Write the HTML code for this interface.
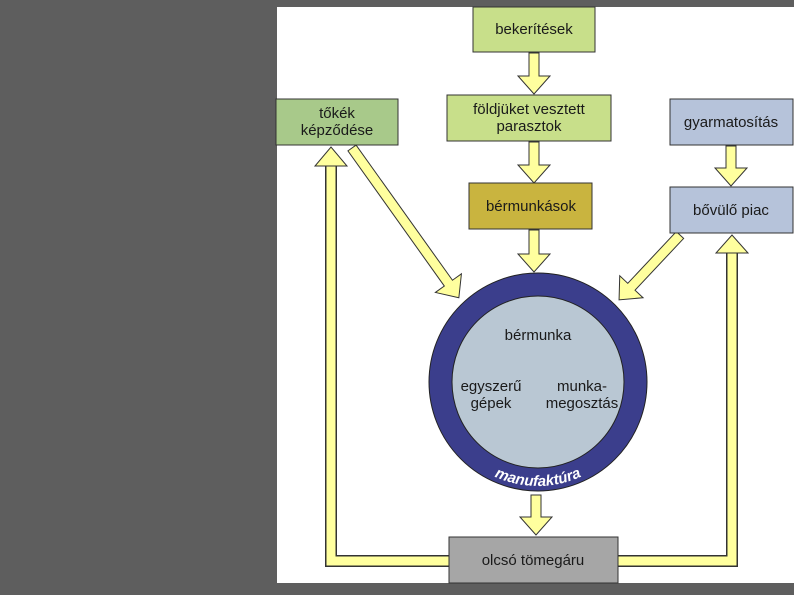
<!DOCTYPE html>
<html><head><meta charset="utf-8"><style>
html,body{margin:0;padding:0;background:#5e5e5e;}
svg{display:block;}
text{font-family:"Liberation Sans",sans-serif;fill:#1a1a1a;}
</style></head><body>
<svg width="794" height="595" viewBox="0 0 794 595" xmlns="http://www.w3.org/2000/svg">
<defs>
<path id="arc" d="M 434,382 A 104 104 0 0 0 642,382"/>
</defs>
<rect x="0" y="0" width="794" height="595" fill="#5e5e5e"/>
<rect x="277" y="7" width="517" height="576" fill="#ffffff"/>

<!-- loops -->
<g fill="none" stroke-linejoin="miter">
<polyline points="449,561 331,561 331,165" stroke="#333" stroke-width="12"/>
<polyline points="449,561 331,561 331,165" stroke="#ffff9e" stroke-width="9"/>
<polyline points="618,561 732,561 732,252" stroke="#333" stroke-width="12"/>
<polyline points="618,561 732,561 732,252" stroke="#ffff9e" stroke-width="9"/>
</g>
<g fill="#ffff9e" stroke="#333" stroke-width="1">
<polygon points="326,166 315,166 331,147 347,166 336,166"/>
<polygon points="727,253 716,253 732,235 748,253 737,253"/>
<!-- down arrows -->
<g transform="translate(534,53)"><polygon points="-5,0 5,0 5,23 16,23 0,41 -16,23 -5,23"/></g>
<g transform="translate(534,142)"><polygon points="-5,0 5,0 5,23 16,23 0,41 -16,23 -5,23"/></g>
<g transform="translate(534,230)"><polygon points="-5,0 5,0 5,24 16,24 0,42 -16,24 -5,24"/></g>
<g transform="translate(731,146)"><polygon points="-5,0 5,0 5,22 16,22 0,40 -16,22 -5,22"/></g>
<g transform="translate(536,495)"><polygon points="-5,0 5,0 5,22 16,22 0,40 -16,22 -5,22"/></g>
<!-- diagonals -->
<g transform="translate(352,148) rotate(-35.5)"><polygon points="-5,0 5,0 5,166 16,166 0,184 -16,166 -5,166"/></g>
<g transform="translate(680,235) rotate(43.2)"><polygon points="-5,0 5,0 5,71 16,71 0,89 -16,71 -5,71"/></g>
</g>

<!-- boxes -->
<g stroke="#333" stroke-width="1">
<rect x="473" y="7" width="122" height="45" fill="#c8df8a"/>
<rect x="447" y="95" width="164" height="46" fill="#c8df8a"/>
<rect x="276" y="99" width="122" height="46" fill="#a8c98a"/>
<rect x="670" y="99" width="123" height="46" fill="#b6c3da"/>
<rect x="469" y="183" width="123" height="46" fill="#c9b43f"/>
<rect x="670" y="187" width="123" height="46" fill="#b6c3da"/>
<rect x="449" y="537" width="169" height="46" fill="#a6a6a6"/>
</g>

<!-- circle -->
<circle cx="538" cy="382" r="109" fill="#3b3e8c" stroke="#222" stroke-width="1"/>
<circle cx="538" cy="382" r="86" fill="#b9c7d3" stroke="#222" stroke-width="1"/>
<text font-size="15" font-weight="bold" font-style="italic" style="fill:#ffffff"><textPath href="#arc" startOffset="50%" text-anchor="middle">manufaktúra</textPath></text>

<!-- labels -->
<g font-size="15" text-anchor="middle">
<text x="534" y="34">bekerítések</text>
<text x="529" y="114">földjüket  vesztett</text>
<text x="529" y="131">parasztok</text>
<text x="337" y="118">tőkék</text>
<text x="337" y="135">képződése</text>
<text x="731" y="127">gyarmatosítás</text>
<text x="531" y="211">bérmunkások</text>
<text x="731" y="215">bővülő piac</text>
<text x="538" y="340">bérmunka</text>
<text x="491" y="391">egyszerű</text>
<text x="491" y="408">gépek</text>
<text x="582" y="391">munka-</text>
<text x="582" y="408">megosztás</text>
<text x="533" y="565">olcsó tömegáru</text>
</g>
</svg>
</body></html>
